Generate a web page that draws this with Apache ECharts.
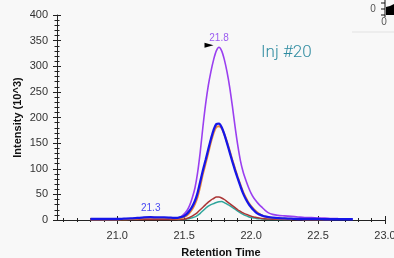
<!DOCTYPE html>
<html><head><meta charset="utf-8">
<script src="https://cdn.jsdelivr.net/npm/echarts@6/dist/echarts.min.js"></script>
<style>html,body{margin:0;padding:0;background:#f8f8f8}#c{width:394px;height:258px}</style>
</head><body><div id="c"></div>
<script>
const xs = [20.80,20.85,20.90,20.95,21.00,21.05,21.10,21.15,21.20,21.25,
  21.30,21.35,21.40,21.45,21.48,21.50,21.52,21.54,21.56,21.58,
  21.60,21.62,21.64,21.66,21.68,21.70,21.72,21.74,21.76,21.78,
  21.80,21.82,21.84,21.86,21.88,21.90,21.92,21.94,21.96,21.98,
  22.00,22.02,22.04,22.06,22.08,22.10,22.13,22.16,22.20,22.25,
  22.30,22.35,22.40,22.45,22.50,22.55,22.60,22.65,22.70,22.76];
const purple = [2,2,2,2,2,2,2.5,3,3.5,4, 4,3.5,3.5,4,7,12,18,28,43,62,
  92,133,182,226,262,290,313,330,337,330, 313,289,259,222,182,146,116,94,78,64,
  52,43,36,30,25,20,14,11,9,8, 7,6,5,5,4,4,3,3,null,null];
const blue = [2,2,2,2,2,2.5,3,4,5,5.5, 5,5,4.5,4,6,8,12,18,26,37,
  53,75,97,117,138,158,176,187,188,181, 167,150,132,114,97,81,66,52,41,32,
  25,19,14,11,9,7,5.5,4.5,3.5,3, 2.5,2,2,2,2,1.5,1.5,1.5,1.5,1.5];
const orange = [1,1,1,1,1,1.5,2,3,4,4.5, 4,4,3.5,3,4,6,9,14,21,31,
  45,66,90,110,131,152,170,181,183,179, 167,152,135,117,100,84,69,55,44,34,
  27,21,16,12,9,7,5,4,3,2.5, 2,2,1.5,1.5,1.5,1.5,1.5,null,null,null];
const red = [1,1,1,1,1,1,1,1,1,1, 1,1,1,1,1,1.5,3,5,7.5,11,
  15,20,25,30,35,39,42,45,45,43, 40,36,32,28,24,20,17,14,11.5,9.5,
  7.5,6,5,4,3,2.5,2,1.5,1.5,1, 1,1,1,1,1,1,1,null,null,null];
const teal = [null,null,null,null,null,null,null,null,null,null, null,null,null,1,1,1,2,3,4.5,6,
  9,13,18,23,27,30,32,34,35.5,36, 34,31,28,24.5,21,17.5,14,11,8.5,6.5,
  5,4,3,2.5,2,1.5,1,1,1,1, 1,null,null,null,null,null,null,null,null,null];
const xMajor = [21.0,21.5,22.0,22.5,23.0];
const xMinor = [20.6,20.7,20.8,20.9,21.1,21.2,21.3,21.4,21.6,21.7,21.8,21.9,22.1,22.2,22.3,22.4,22.6,22.7,22.8,22.9];
const peakLabels = [{x:21.76,y:337,text:'21.8'},{x:21.25,y:5.5,text:'21.3'}];

function pairs(arr){ const out=[]; for(let i=0;i<xs.length;i++){ if(arr[i]!=null) out.push([xs[i],arr[i]]); } return out; }

const FONT = "'Liberation Sans', Arial, sans-serif";
const axisColor = '#222';
function xAx(opts){
  return Object.assign({type:'value',position:'bottom',min:20.55,max:23.0,splitLine:{show:false},
    axisLine:{show:false,onZero:false},axisLabel:{show:false},axisTick:{show:false}}, opts);
}
const chart = echarts.init(document.getElementById('c'));
chart.setOption({
  animation:false,
  backgroundColor:'#f8f8f8',
  title:{text:'Inj #20',left:256,top:39,textStyle:{color:'#2e8ba0',fontSize:17,fontWeight:300,fontFamily:'Roboto, sans-serif'}},
  grid:{left:57,right:9,top:15,bottom:38,containLabel:false,outerBoundsMode:'none'},
  xAxis:[
    xAx({axisLine:{show:true,onZero:false,lineStyle:{color:axisColor}},
      axisLabel:{show:true,customValues:xMajor,formatter:v=>v.toFixed(1),color:'#333',fontSize:11,fontFamily:FONT,margin:10},
      axisTick:{show:true,customValues:xMajor,length:4,lineStyle:{color:axisColor}},
      name:'Retention Time',nameLocation:'middle',nameGap:27,
      nameTextStyle:{color:'#111',fontWeight:'bold',fontSize:11,fontFamily:FONT}}),
    xAx({axisTick:{show:true,inside:true,customValues:xMajor,length:4,lineStyle:{color:axisColor}}}),
    xAx({axisTick:{show:true,customValues:xMinor,length:2,lineStyle:{color:axisColor}}}),
    xAx({axisTick:{show:true,inside:true,customValues:xMinor,length:2,lineStyle:{color:axisColor}}})
  ],
  yAxis:[
    {type:'value',position:'left',min:0,max:400,interval:50,splitLine:{show:false},
      axisLine:{show:true,onZero:false,lineStyle:{color:axisColor}},
      axisTick:{show:true,length:4,lineStyle:{color:axisColor}},
      minorTick:{show:true,splitNumber:5,length:2.5,lineStyle:{color:axisColor}},
      axisLabel:{color:'#333',fontSize:11,fontFamily:FONT,margin:9},
      name:'Intensity (10^3)',nameLocation:'middle',nameGap:34,nameMoveOverlap:false,
      nameTextStyle:{color:'#111',fontWeight:'bold',fontSize:11,fontFamily:FONT}},
    {type:'value',position:'left',min:0,max:400,interval:50,splitLine:{show:false},
      axisLine:{show:false,onZero:false},axisLabel:{show:false},
      axisTick:{show:true,inside:true,length:4,lineStyle:{color:axisColor}},
      minorTick:{show:true,splitNumber:5,length:2.5,lineStyle:{color:axisColor}}}
  ],
  series:[
    {type:'line',name:'purple',data:pairs(purple),showSymbol:false,smooth:0.3,lineStyle:{color:'#9a3ff0',width:1.6},itemStyle:{color:'#9a3ff0'},
      markPoint:{animation:false,data:[
        {coord:[peakLabels[0].x,peakLabels[0].y],symbol:'triangle',symbolSize:[5,9],symbolRotate:-90,symbolOffset:[-10,-2],itemStyle:{color:'#000'},label:{show:false}},
        {coord:[peakLabels[0].x,peakLabels[0].y],symbol:'circle',symbolSize:0,itemStyle:{color:'transparent'},
          label:{show:true,formatter:peakLabels[0].text,position:'top',distance:4,color:'#9b5cf0',fontSize:10,fontFamily:FONT}}
      ]}},
    {type:'line',name:'teal',data:pairs(teal),showSymbol:false,smooth:0.3,lineStyle:{color:'#2fa59b',width:1.5},itemStyle:{color:'#2fa59b'}},
    {type:'line',name:'red',data:pairs(red),showSymbol:false,smooth:0.3,lineStyle:{color:'#aa3535',width:1.5},itemStyle:{color:'#aa3535'}},
    {type:'line',name:'orange',data:pairs(orange),showSymbol:false,smooth:0.3,lineStyle:{color:'#e8873a',width:2},itemStyle:{color:'#e8873a'}},
    {type:'line',name:'blue',data:pairs(blue),showSymbol:false,smooth:0.3,lineStyle:{color:'#1616e8',width:2.3},itemStyle:{color:'#1616e8'},
      markPoint:{animation:false,data:[
        {coord:[peakLabels[1].x,peakLabels[1].y],symbol:'circle',symbolSize:0,itemStyle:{color:'transparent'},
          label:{show:true,formatter:peakLabels[1].text,position:'top',distance:4,color:'#4848f2',fontSize:10,fontFamily:FONT}}
      ]}}
  ],
  graphic:[
    {type:'line',shape:{x1:352,y1:32,x2:394,y2:32},style:{stroke:'#e2e2e2',lineWidth:1}},
    {type:'line',shape:{x1:385,y1:0,x2:385,y2:17},style:{stroke:'#111',lineWidth:1}},
    {type:'line',shape:{x1:381,y1:3,x2:385,y2:3},style:{stroke:'#111',lineWidth:1}},
    {type:'line',shape:{x1:381,y1:9,x2:385,y2:9},style:{stroke:'#111',lineWidth:1}},
    {type:'line',shape:{x1:381,y1:15,x2:385,y2:15},style:{stroke:'#111',lineWidth:1}},
    {type:'polygon',shape:{points:[[386,7],[390,6],[394,4],[394,15],[386,15]]},style:{fill:'#000'}},
    {type:'text',x:373,y:9,style:{text:'0',fill:'#555',font:"10px 'Liberation Sans', Arial",align:'center',verticalAlign:'middle'}},
    {type:'text',x:384,y:22,style:{text:'0',fill:'#555',font:"10px 'Liberation Sans', Arial",align:'center',verticalAlign:'middle'}}
  ]
});
</script></body></html>
